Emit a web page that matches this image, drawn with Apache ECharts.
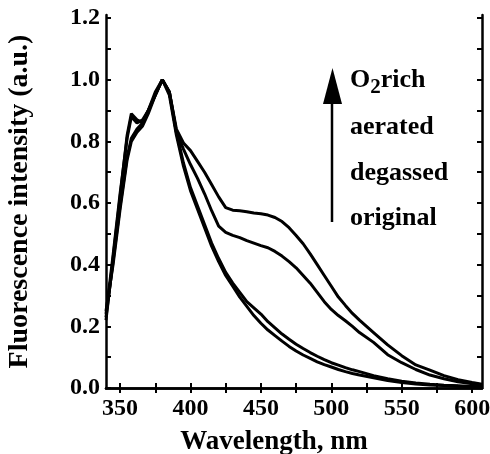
<!DOCTYPE html>
<html>
<head>
<meta charset="utf-8">
<script src="https://cdn.jsdelivr.net/npm/echarts@6/dist/echarts.min.js"></script>
<style>
html,body{margin:0;padding:0;background:#fff;}
#chart{width:490px;height:454px;}
</style>
</head>
<body>
<div id="chart"></div>
<script>
// Wavelength (nm)
const wavelengths = [340,345,350,355,358,362,366,370,375,380,385,390,395,400,405,410,415,420,425,430,435,440,445,450,455,460,465,470,475,480,485,490,495,500,505,510,515,520,530,540,550,560,570,580,590,600,607];
// Normalised fluorescence intensity
const original = [0.22,0.42,0.62,0.82,0.89,0.87,0.86,0.90,0.95,1.00,0.95,0.82,0.72,0.64,0.58,0.52,0.46,0.41,0.365,0.33,0.295,0.265,0.235,0.21,0.188,0.17,0.152,0.135,0.12,0.107,0.096,0.085,0.076,0.068,0.06,0.053,0.047,0.042,0.033,0.024,0.018,0.013,0.01,0.008,0.006,0.005,0.004];
const degassed = [0.24,0.43,0.63,0.81,0.88,0.86,0.87,0.90,0.96,1.00,0.96,0.83,0.73,0.65,0.59,0.53,0.47,0.42,0.375,0.34,0.31,0.28,0.26,0.24,0.215,0.195,0.175,0.158,0.142,0.128,0.115,0.103,0.092,0.082,0.074,0.066,0.059,0.053,0.04,0.03,0.022,0.016,0.012,0.009,0.007,0.005,0.004];
const aerated = [0.25,0.40,0.58,0.74,0.80,0.83,0.85,0.89,0.95,1.00,0.96,0.83,0.775,0.725,0.68,0.63,0.575,0.525,0.505,0.495,0.488,0.478,0.47,0.462,0.455,0.443,0.428,0.41,0.39,0.365,0.34,0.31,0.28,0.255,0.235,0.218,0.2,0.18,0.148,0.108,0.082,0.06,0.042,0.03,0.02,0.014,0.01];
const o2rich = [0.23,0.41,0.59,0.75,0.81,0.84,0.86,0.90,0.95,1.00,0.96,0.84,0.795,0.77,0.735,0.70,0.66,0.62,0.585,0.577,0.575,0.572,0.568,0.565,0.561,0.553,0.54,0.52,0.495,0.468,0.435,0.40,0.365,0.33,0.295,0.268,0.242,0.22,0.18,0.14,0.105,0.075,0.058,0.04,0.027,0.018,0.012];
// Tick labels
const xLabels = [350,400,450,500,550,600];
const xTicks = [350,375,400,425,450,475,500,525,550,575,600];
const yLabels = [0,0.2,0.4,0.6,0.8,1.0,1.2];
const yTicks = [0,0.1,0.2,0.3,0.4,0.5,0.6,0.7,0.8,0.9,1.0,1.1,1.2];
const legendNames = ['O2rich','aerated','degassed','original'];

const FONT = '"Liberation Serif", "Times New Roman", serif';
const chart = echarts.init(document.getElementById('chart'), null, {renderer:'canvas'});

function pairs(v){ return wavelengths.map((w,i)=>[w,v[i]]); }
function line(name, v){
  return {name, type:'line', data:pairs(v), showSymbol:false, symbol:'none',
    lineStyle:{color:'#000', width:3}, itemStyle:{color:'#000'}, xAxisIndex:0, yAxisIndex:0, animation:false, z:3};
}
const axisLine = {show:true, lineStyle:{color:'#000', width:2.5}};

chart.setOption({
  animation:false,
  backgroundColor:'#fff',
  grid:{left:106, right:8, top:15, bottom:66, containLabel:false, outerBoundsMode:'none'},
  xAxis:[{
    type:'value', min:340, max:607, position:'bottom',
    axisLine, splitLine:{show:false},
    axisTick:{show:true, inside:true, length:5, customValues:xTicks, lineStyle:{color:'#000', width:2}},
    axisLabel:{customValues:xLabels, color:'#000', fontFamily:FONT, fontWeight:'bold', fontSize:24, margin:9},
    name:'Wavelength, nm', nameLocation:'middle', nameGap:41,
    nameTextStyle:{color:'#000', fontFamily:FONT, fontWeight:'bold', fontSize:27, padding:[0,40,0,0]}
  },{
    type:'value', min:340, max:607, position:'top',
    axisLine, splitLine:{show:false},
    axisTick:{show:true, inside:true, length:5, customValues:xTicks, lineStyle:{color:'#000', width:2}},
    axisLabel:{show:false}
  }],
  yAxis:[{
    type:'value', min:0, max:1.21, position:'left',
    axisLine, splitLine:{show:false},
    axisTick:{show:true, inside:true, length:5, customValues:yTicks, lineStyle:{color:'#000', width:2}},
    axisLabel:{customValues:yLabels, color:'#000', fontFamily:FONT, fontWeight:'bold', fontSize:24, margin:6,
      formatter:v=>v.toFixed(1)},
    name:'Fluorescence intensity (a.u.)', nameLocation:'middle', nameGap:72, nameRotate:90,
    nameTextStyle:{color:'#000', fontFamily:FONT, fontWeight:'bold', fontSize:28}
  },{
    type:'value', min:0, max:1.21, position:'right',
    axisLine, splitLine:{show:false},
    axisTick:{show:true, inside:true, length:5, customValues:yTicks, lineStyle:{color:'#000', width:2}},
    axisLabel:{show:false}
  }],
  series:[line('original',original), line('degassed',degassed), line('aerated',aerated), line('O2rich',o2rich)],
  graphic:[
    {type:'line', shape:{x1:332, y1:222, x2:332, y2:100}, style:{stroke:'#000', lineWidth:2.5}, z:10},
    {type:'polygon', shape:{points:[[323,104],[342,104],[332.5,68]]}, style:{fill:'#000'}, z:10},
    {type:'text', left:350, top:67, z:10, style:{
      text:'{a|O}{s|2}{a|rich}', font:'bold 26px '+FONT, fill:'#000',
      rich:{a:{fontFamily:FONT, fontWeight:'bold', fontSize:26, fill:'#000', lineHeight:27, verticalAlign:'top'},
            s:{fontFamily:FONT, fontWeight:'bold', fontSize:21, fill:'#000', lineHeight:27, padding:[10,0,0,0], verticalAlign:'top'}}
    }},
    {type:'text', left:350, top:114, z:10, style:{text:legendNames[1], font:'bold 26px '+FONT, fill:'#000'}},
    {type:'text', left:350, top:160, z:10, style:{text:legendNames[2], font:'bold 26px '+FONT, fill:'#000'}},
    {type:'text', left:350, top:205, z:10, style:{text:legendNames[3], font:'bold 26px '+FONT, fill:'#000'}}
  ]
});
</script>
</body>
</html>
